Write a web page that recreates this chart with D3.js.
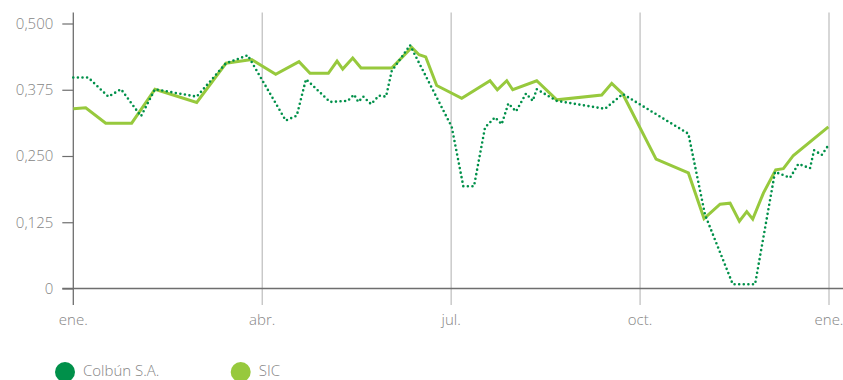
<!DOCTYPE html>
<html><head><meta charset="utf-8">
<script src="https://cdn.jsdelivr.net/npm/d3@7"></script>
<style>
html,body{margin:0;padding:0;background:#fff;}
svg{display:block;font-family:"Open Sans",sans-serif;}
</style></head>
<body><svg id="c" width="843" height="380"></svg>
<script>
// x positions are in months from January 1st (0 = ene., 12 = next ene.)
const xTickMonths = [0, 3, 6, 9, 12];
const xTickLabels = ["ene.", "abr.", "jul.", "oct.", "ene."];
const yTickValues = [0, 0.125, 0.25, 0.375, 0.5];
const seriesNames = ["Colbún S.A.", "SIC"];

const colbunMonths = [0,0.238,0.556,0.758,1.075,1.297,1.960,2.424,2.770,3.373,3.548,3.695,4.077,4.358,4.458,4.526,4.605,4.728,4.855,4.966,5.056,5.347,6.009,6.193,6.363,6.538,6.697,6.803,6.908,7.030,7.189,7.296,7.359,7.677,8.444,8.725,9.767,10.032,10.472,10.826,11.143,11.382,11.513,11.699,11.763,11.885,12.0];
const colbunValues = [0.398,0.398,0.362,0.376,0.325,0.376,0.362,0.425,0.440,0.317,0.326,0.395,0.352,0.354,0.366,0.352,0.362,0.348,0.364,0.362,0.410,0.459,0.305,0.193,0.193,0.304,0.323,0.310,0.349,0.334,0.368,0.354,0.376,0.354,0.339,0.367,0.292,0.139,0.008,0.008,0.220,0.209,0.235,0.227,0.261,0.252,0.272];

const sicMonths = [0,0.197,0.515,0.927,1.297,1.960,2.424,2.833,3.214,3.584,3.759,4.050,4.188,4.278,4.437,4.569,5.056,5.374,5.490,5.596,5.771,6.168,6.617,6.733,6.883,6.978,7.359,7.677,8.391,8.550,8.725,9.254,9.767,10.016,10.270,10.429,10.577,10.694,10.789,10.958,11.154,11.275,11.434,11.990];
const sicValues = [0.339,0.341,0.312,0.312,0.376,0.351,0.425,0.432,0.404,0.428,0.406,0.406,0.429,0.414,0.435,0.416,0.416,0.455,0.441,0.437,0.383,0.359,0.392,0.375,0.392,0.375,0.392,0.356,0.365,0.387,0.367,0.244,0.218,0.132,0.159,0.161,0.127,0.145,0.131,0.180,0.224,0.226,0.251,0.305];

const colors = {colbun:"#00904a", sic:"#97c93d"};
const textColor = "#858585";
const svg = d3.select("#c");
const x = d3.scaleLinear().domain([0,12]).range([73.3, 829]);
const y = d3.scaleLinear().domain([0,0.5]).range([288.5, 23.5]);
const topY = 12.5, bottomY = 305;

const locale = d3.formatLocale({decimal:",", thousands:".", grouping:[3], currency:["","€"]});
const f3 = locale.format(".3f");

// vertical grid lines (month ticks)
svg.append("g").selectAll("line").data(xTickMonths.slice(1)).join("line")
  .attr("x1", d=>x(d)).attr("x2", d=>x(d)).attr("y1", topY).attr("y2", bottomY)
  .attr("stroke", "#bdbdbd").attr("stroke-width", 1.2);

// x labels
svg.append("g").selectAll("text").data(xTickMonths).join("text")
  .attr("x", d=>x(d)).attr("y", 325).attr("text-anchor","middle")
  .attr("fill",textColor).attr("font-size",15).attr("font-weight",300)
  .text((d,i)=>xTickLabels[i]);

// y axis
const yAxis = d3.axisLeft(y).tickValues(yTickValues).tickSize(11).tickPadding(9)
  .tickFormat(d => d===0 ? "0" : f3(d));
const ga = svg.append("g").attr("transform", `translate(${x(0)},0)`).call(yAxis);
ga.select(".domain").remove();
ga.selectAll(".tick line").attr("stroke","#6e6e6e").attr("stroke-width",1.2);
ga.selectAll(".tick text").attr("fill",textColor).attr("font-size",15)
  .attr("font-family","'Open Sans',sans-serif").attr("font-weight",300);
svg.append("line").attr("x1", x(0)).attr("x2", x(0)).attr("y1", topY).attr("y2", bottomY)
  .attr("stroke","#6e6e6e").attr("stroke-width",1.3);
// zero baseline
svg.append("line").attr("x1", x(0)-11).attr("x2", 843).attr("y1", y(0)).attr("y2", y(0))
  .attr("stroke","#6e6e6e").attr("stroke-width",1.3);

const line = d3.line().x(d=>x(d[0])).y(d=>y(d[1]));
const sicData = sicMonths.map((m,i)=>[m, sicValues[i]]);
const colData = colbunMonths.map((m,i)=>[m, colbunValues[i]]);

svg.append("path").datum(sicData).attr("d", line).attr("fill","none")
  .attr("stroke", colors.sic).attr("stroke-width", 3).attr("stroke-linejoin","miter");
svg.append("path").datum(colData).attr("d", line).attr("fill","none")
  .attr("stroke", colors.colbun).attr("stroke-width", 2.6)
  .attr("stroke-dasharray","0,4.6").attr("stroke-linecap","round");

// legend
const legX = [65, 240.7];
const lg = svg.append("g").selectAll("g").data(seriesNames).join("g")
  .attr("transform", (d,i)=>`translate(${legX[i]},372)`);
lg.append("circle").attr("r",10).attr("fill",(d,i)=> i===0 ? colors.colbun : colors.sic);
lg.append("text").attr("x",18).attr("y",4).attr("fill",textColor)
  .attr("font-size",15).attr("font-weight",300).text(d=>d);
</script></body></html>
